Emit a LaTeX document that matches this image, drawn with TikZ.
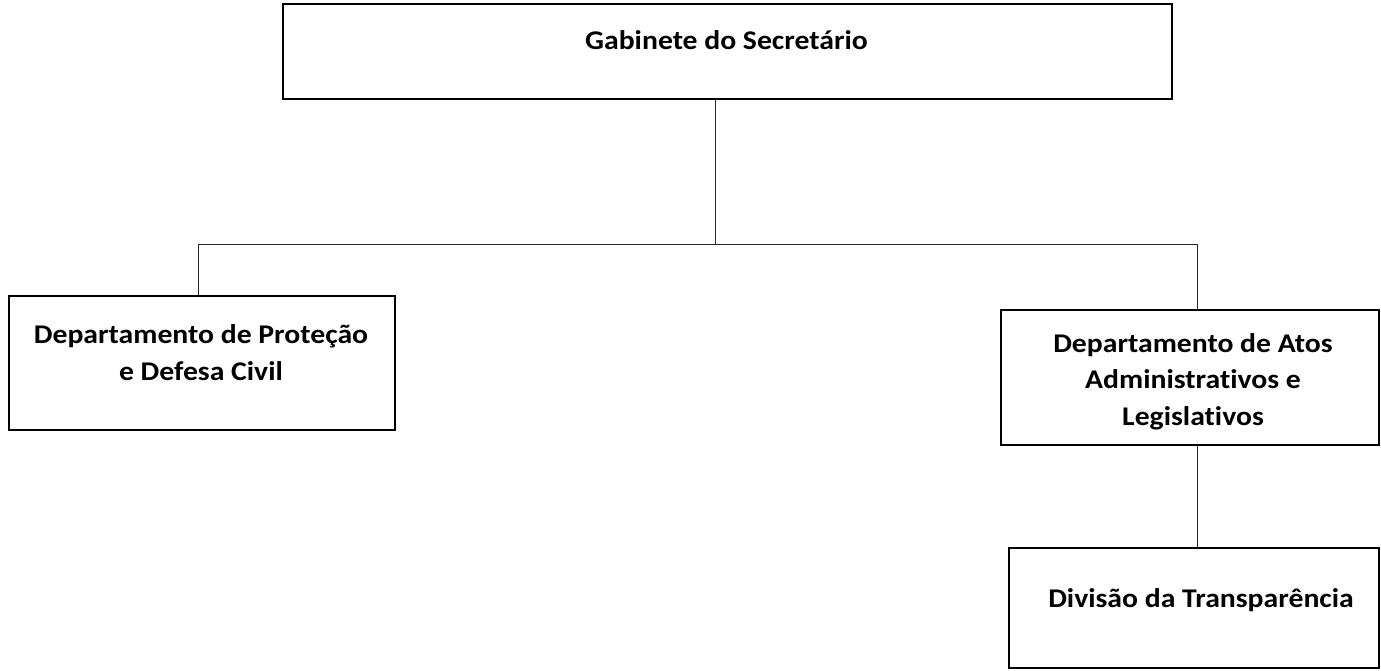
\documentclass[tikz,border=0pt]{standalone}
\usepackage{fontspec}
\setmainfont{Carlito}[FakeStretch=1.1, Ligatures=CommonOff]
\begin{document}
\begin{tikzpicture}[x=1pt,y=-1pt,
  box/.style={draw, line width=2pt, inner sep=0pt, fill=white},
  txt/.style={font=\bfseries\fontsize{27}{36.3}\selectfont, align=center, anchor=base, inner sep=0pt},
  conn/.style={line width=1pt, draw=black!85}]
\useasboundingbox (0,0) rectangle (1381,671);
\node[box, minimum width=889pt, minimum height=95pt] (gab) at (727.5,51.5) {};
\node[box, minimum width=386pt, minimum height=134pt] (pdc) at (202,363) {};
\node[box, minimum width=378pt, minimum height=135pt] (ato) at (1190,377.5) {};
\node[box, minimum width=370pt, minimum height=120pt] (div) at (1194,608) {};
\node[txt] (gabT) at (726.5,50) {Gabinete do Secretário};
\node[txt] (pdcT) at (201,380) {Departamento de Proteção\\e Defesa Civil};
\node[txt] (atoT) at (1193,425) {Departamento de Atos\\Administrativos e\\Legislativos};
\node[txt] (divT) at (1201,607.3) {Divisão da Transparência};
\coordinate (j) at (715,244);
\coordinate (hl) at (198,244);
\coordinate (hr) at (1197,244);
\draw[conn] (gab.south -| j) -- (j);
\draw[conn] (hl) -- (hr);
\draw[conn] (hl) -- (hl |- pdc.north);
\draw[conn] (hr) -- (hr |- ato.north);
\draw[conn] (ato.south -| hr) -- (div.north -| hr);
\end{tikzpicture}
\end{document}
